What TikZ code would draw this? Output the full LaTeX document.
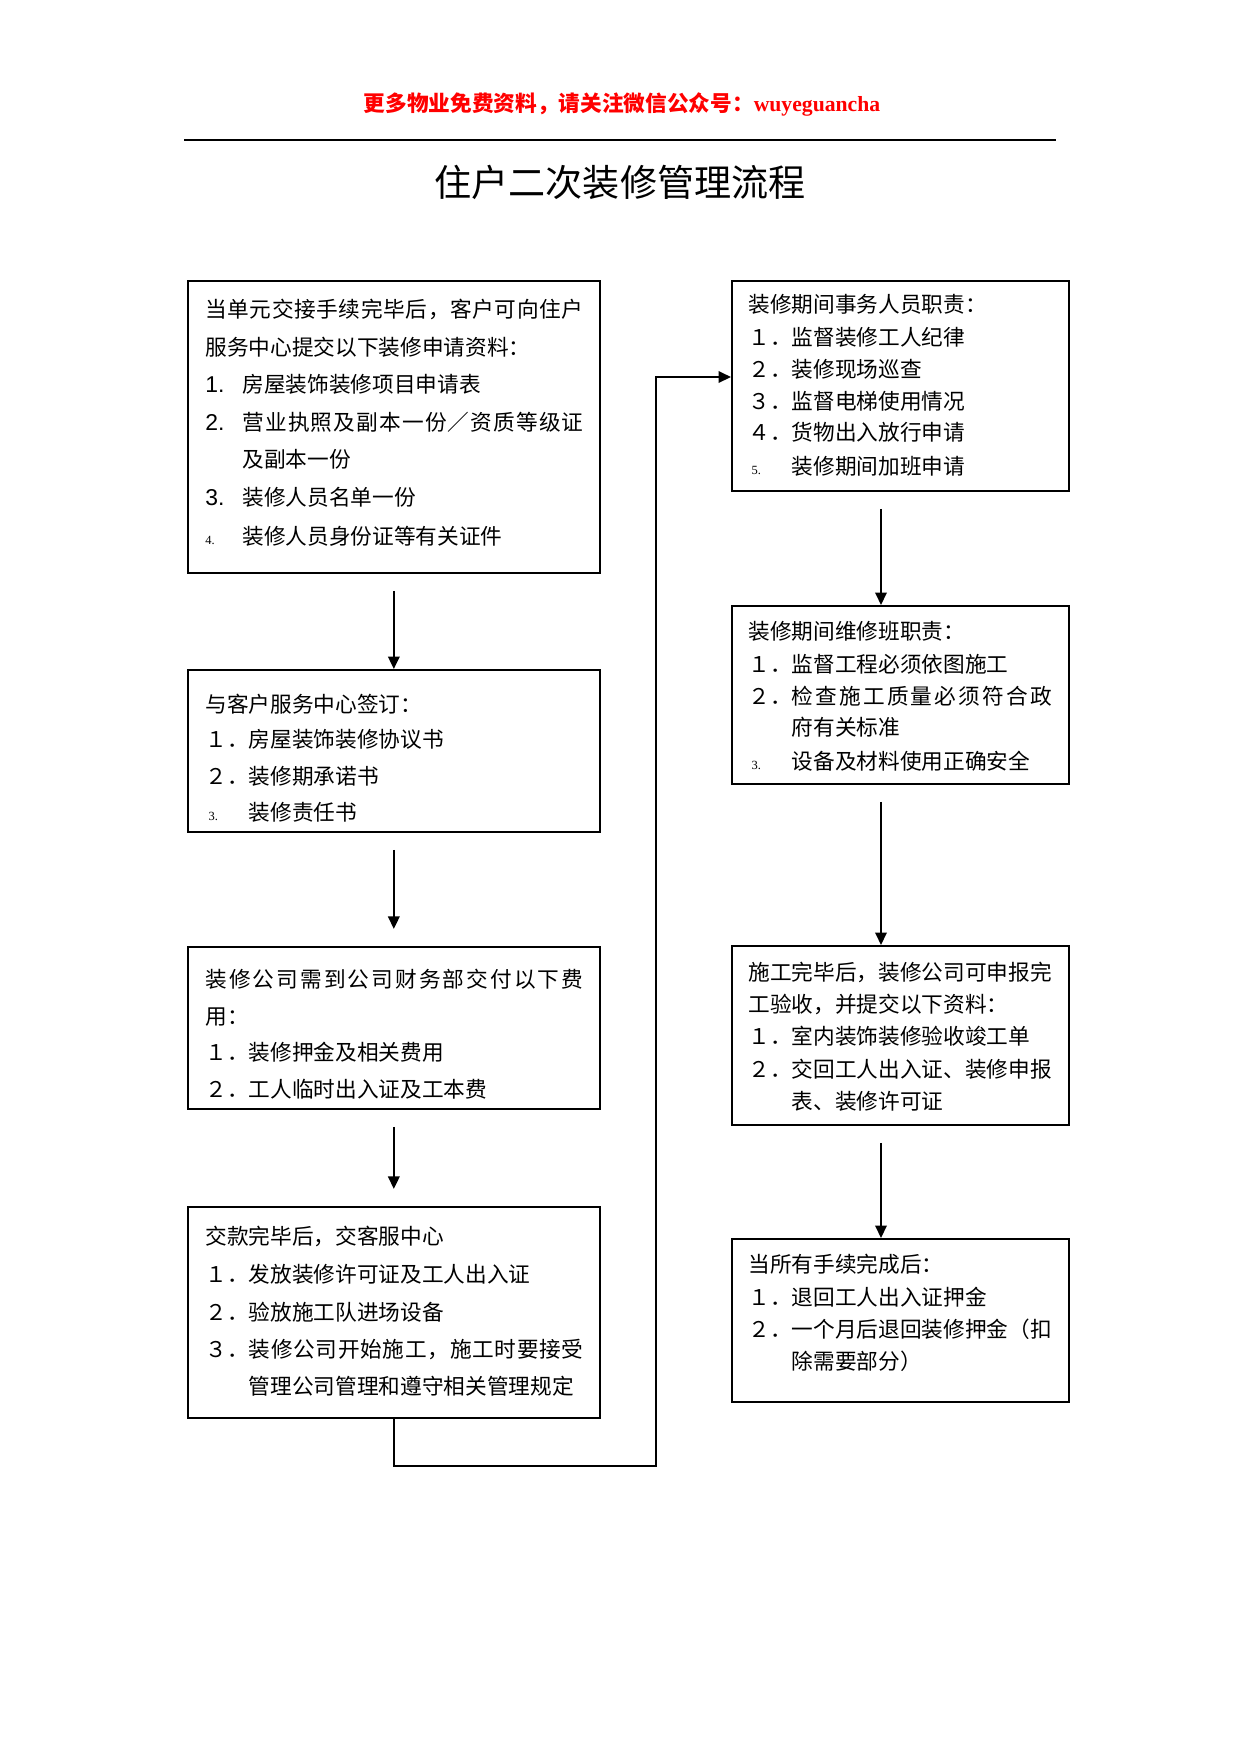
\documentclass[tikz,border=0pt]{standalone}
\usepackage{fontspec}
\setmainfont{Noto Sans CJK SC}
\newfontfamily\latinf{Liberation Serif}
\newfontfamily\latins{Liberation Sans}
\usetikzlibrary{arrows.meta,calc}
\definecolor{hdrred}{RGB}{255,0,0}
\newcommand\spreadto[2]{\makebox[#1][s]{\spreadloop#2\relax}}
\def\spreadloop#1#2{#1\ifx\relax#2\else\hfill\expandafter\spreadloop\expandafter#2\fi}
\newcommand\smallnum[1]{\makebox[2em][l]{\hspace{1.5pt}\latinf\fontsize{6}{7}\selectfont #1}}
\newcommand\bignum[1]{\makebox[17.8pt][l]{\latins\fontsize{11}{12}\selectfont #1}}
\begin{document}
\begin{tikzpicture}[x=0.48pt,y=-0.48pt,
  flowbox/.style={draw, line width=0.8pt, inner sep=0pt, anchor=north west},
  ln/.style={anchor=west, inner sep=0pt, text height=0.8em, text depth=0.12em,
    font=\fontsize{10.4}{12}\selectfont},
  arr/.style={line width=1pt, -{Triangle[length=6pt,width=5.5pt]}},
  gapstart/.style={shorten <=8.2pt},
  gapend/.style={shorten >=8.2pt}]
\useasboundingbox (0,0) rectangle (1240,1755);
% header
\node[inner sep=0pt, text=hdrred, font=\fontsize{10.4}{12}\selectfont\bfseries] (hdr) at (622,104)
  {更多物业免费资料，请关注微信公众号：{\latinf\bfseries wuyeguancha}};
\draw[line width=0.6pt] (184,140) -- (1056,140);
\node[inner sep=0pt, font=\fontsize{17.8}{20}\selectfont] (title) at (620,182) {住户二次装修管理流程};
% boxes
\node[flowbox, minimum width={412*0.48pt}, minimum height={292*0.48pt}] (b1) at (187,280) {};
\node[flowbox, minimum width={412*0.48pt}, minimum height={162*0.48pt}] (b2) at (187,669) {};
\node[flowbox, minimum width={412*0.48pt}, minimum height={162*0.48pt}] (b3) at (187,946) {};
\node[flowbox, minimum width={412*0.48pt}, minimum height={211*0.48pt}] (b4) at (187,1206) {};
\node[flowbox, minimum width={337*0.48pt}, minimum height={210*0.48pt}] (r1) at (731,280) {};
\node[flowbox, minimum width={337*0.48pt}, minimum height={178*0.48pt}] (r2) at (731,605) {};
\node[flowbox, minimum width={337*0.48pt}, minimum height={179*0.48pt}] (r3) at (731,945) {};
\node[flowbox, minimum width={337*0.48pt}, minimum height={163*0.48pt}] (r4) at (731,1238) {};
% box 1 text
\node[ln] (t11) at (205,310) {\spreadto{181.4pt}{当单元交接手续完毕后，客户可向住户}};
\node[ln] (t12) at (205,348) {服务中心提交以下装修申请资料：};
\node[ln] (t13) at (205,385) {\bignum{1.}房屋装饰装修项目申请表};
\node[ln] (t14) at (205,423) {\bignum{2.}\spreadto{163.7pt}{营业执照及副本一份／资质等级证}};
\node[ln] (t15) at (205,460) {\hspace*{17.8pt}及副本一份};
\node[ln] (t16) at (205,498) {\bignum{3.}装修人员名单一份};
\node[ln] (t17) at (205,537) {\makebox[17.8pt][l]{\latinf\fontsize{6}{7}\selectfont 4.}装修人员身份证等有关证件};
% box 2 text
\node[ln] (t21) at (205,705) {与客户服务中心签订：};
\node[ln] (t22) at (205,740) {１．房屋装饰装修协议书};
\node[ln] (t23) at (205,777) {２．装修期承诺书};
\node[ln] (t24) at (205,813) {\smallnum{3.}装修责任书};
% box 3 text
\node[ln] (t31) at (205,980) {\spreadto{181.4pt}{装修公司需到公司财务部交付以下费}};
\node[ln] (t32) at (205,1017) {用：};
\node[ln] (t33) at (205,1053) {１．装修押金及相关费用};
\node[ln] (t34) at (205,1090) {２．工人临时出入证及工本费};
% box 4 text
\node[ln] (t41) at (205,1237) {交款完毕后，交客服中心};
\node[ln] (t42) at (205,1275) {１．发放装修许可证及工人出入证};
\node[ln] (t43) at (205,1313) {２．验放施工队进场设备};
\node[ln] (t44) at (205,1350) {３．\spreadto{160.7pt}{装修公司开始施工，施工时要接受}};
\node[ln] (t45) at (205,1387) {\hspace*{2em}管理公司管理和遵守相关管理规定};
% right box 1
\node[ln] (s11) at (748,305) {装修期间事务人员职责：};
\node[ln] (s12) at (748,338) {１．监督装修工人纪律};
\node[ln] (s13) at (748,370) {２．装修现场巡查};
\node[ln] (s14) at (748,402) {３．监督电梯使用情况};
\node[ln] (s15) at (748,433) {４．货物出入放行申请};
\node[ln] (s16) at (748,467) {\smallnum{5.}装修期间加班申请};
% right box 2
\node[ln] (s21) at (748,632) {装修期间维修班职责：};
\node[ln] (s22) at (748,665) {１．监督工程必须依图施工};
\node[ln] (s23) at (748,697) {２．\spreadto{124.8pt}{检查施工质量必须符合政}};
\node[ln] (s24) at (748,728) {\hspace*{2em}府有关标准};
\node[ln] (s25) at (748,762) {\smallnum{3.}设备及材料使用正确安全};
% right box 3
\node[ln] (s31) at (748,973) {\spreadto{145.4pt}{施工完毕后，装修公司可申报完}};
\node[ln] (s32) at (748,1005) {工验收，并提交以下资料：};
\node[ln] (s33) at (748,1037) {１．室内装饰装修验收竣工单};
\node[ln] (s34) at (748,1070) {２．交回工人出入证、装修申报};
\node[ln] (s35) at (748,1102) {\hspace*{2em}表、装修许可证};
% right box 4
\node[ln] (s41) at (748,1265) {当所有手续完成后：};
\node[ln] (s42) at (748,1298) {１．退回工人出入证押金};
\node[ln] (s43) at (748,1330) {２．一个月后退回装修押金（扣};
\node[ln] (s44) at (748,1362) {\hspace*{2em}除需要部分）};
% connectors
\draw[arr, gapstart] (b1.south) -- (b2.north);
\draw[arr, gapstart, gapend] (b2.south) -- (b3.north);
\draw[arr, gapstart, gapend] (b3.south) -- (b4.north);
\coordinate (rx) at (881,0);
\draw[arr, gapstart] (r1.south -| rx) -- (r2.north -| rx);
\draw[arr, gapstart] (r2.south -| rx) -- (r3.north -| rx);
\draw[arr, gapstart] (r3.south -| rx) -- (r4.north -| rx);
\coordinate (lp1) at (656,1466);
\coordinate (lp2) at (656,377);
\draw[arr] (b4.south) |- (lp1) -- (lp2) -- (lp2 -| r1.west);
\end{tikzpicture}
\end{document}
